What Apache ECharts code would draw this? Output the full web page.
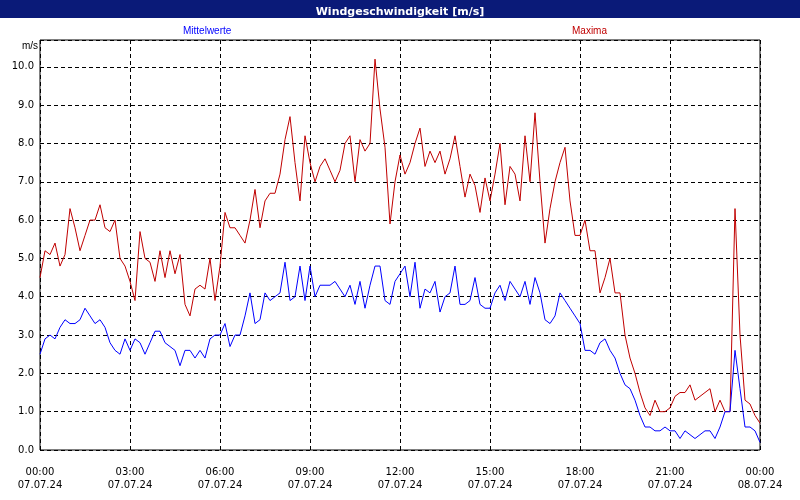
<!DOCTYPE html>
<html>
<head>
<meta charset="utf-8">
<script src="https://cdn.jsdelivr.net/npm/echarts@6/dist/echarts.min.js"></script>
<style>
  html, body { margin: 0; padding: 0; background: #fff; }
  #chart { width: 800px; height: 500px; }
</style>
</head>
<body>
<div id="chart"></div>
<script>
// 10-minute steps from 07.07.24 00:00 to 08.07.24 00:00
var maxima = [
  4.5,5.2,5.1,5.4,4.8,5.1, 6.3,5.8,5.2,5.6,6.0,6.0, 6.4,5.8,5.7,6.0,5.0,4.8,
  4.4,3.9,5.7,5.0,4.9,4.4, 5.2,4.5,5.2,4.6,5.1,3.8, 3.5,4.2,4.3,4.2,5.0,3.9,
  4.8,6.2,5.8,5.8,5.6,5.4, 6.0,6.8,5.8,6.5,6.7,6.7, 7.2,8.1,8.7,7.5,6.5,8.2,
  7.5,7.0,7.4,7.6,7.3,7.0, 7.3,8.0,8.2,7.0,8.1,7.8, 8.0,10.2,8.9,7.9,5.9,7.0,
  7.7,7.2,7.5,8.0,8.4,7.4, 7.8,7.5,7.8,7.2,7.6,8.2, 7.4,6.6,7.2,6.9,6.2,7.1,
  6.5,7.2,8.0,6.4,7.4,7.2, 6.5,8.2,7.0,8.8,7.0,5.4, 6.3,7.0,7.5,7.9,6.5,5.6,
  5.6,6.0,5.2,5.2,4.1,4.5, 5.0,4.1,4.1,3.0,2.4,2.0, 1.5,1.1,0.9,1.3,1.0,1.0,
  1.1,1.4,1.5,1.5,1.7,1.3, 1.4,1.5,1.6,1.0,1.3,1.0, 1.0,6.3,3.0,1.3,1.2,0.9, 0.7
];
var mittel = [
  2.5,2.9,3.0,2.9,3.2,3.4, 3.3,3.3,3.4,3.7,3.5,3.3, 3.4,3.2,2.8,2.6,2.5,2.9,
  2.6,2.9,2.8,2.5,2.8,3.1, 3.1,2.8,2.7,2.6,2.2,2.6, 2.6,2.4,2.6,2.4,2.9,3.0,
  3.0,3.3,2.7,3.0,3.0,3.5, 4.1,3.3,3.4,4.1,3.9,4.0, 4.1,4.9,3.9,4.0,4.8,3.9,
  4.8,4.0,4.3,4.3,4.3,4.4, 4.2,4.0,4.3,3.8,4.4,3.7, 4.3,4.8,4.8,3.9,3.8,4.4,
  4.6,4.8,4.0,4.9,3.7,4.2, 4.1,4.4,3.6,4.0,4.1,4.8, 3.8,3.8,3.9,4.5,3.8,3.7,
  3.7,4.1,4.3,3.9,4.4,4.2, 4.0,4.4,3.8,4.5,4.1,3.4, 3.3,3.5,4.1,3.9,3.7,3.5,
  3.3,2.6,2.6,2.5,2.8,2.9, 2.6,2.4,2.0,1.7,1.6,1.3, 0.9,0.6,0.6,0.5,0.5,0.6,
  0.5,0.5,0.3,0.5,0.4,0.3, 0.4,0.5,0.5,0.3,0.6,1.0, 1.0,2.6,1.6,0.6,0.6,0.5, 0.2
];
var timeLabels = ['00:00','03:00','06:00','09:00','12:00','15:00','18:00','21:00','00:00'];
var dateLabels = ['07.07.24','07.07.24','07.07.24','07.07.24','07.07.24','07.07.24','07.07.24','07.07.24','08.07.24'];

function pairs(arr) {
  return arr.map(function (v, i) { return [i, v]; });
}

var myChart = echarts.init(document.getElementById('chart'));
myChart.setOption({
  animation: false,
  backgroundColor: '#fff',
  textStyle: { fontFamily: 'DejaVu Sans' },
  title: {
    text: 'Windgeschwindigkeit [m/s]',
    left: 'center',
    top: 2,
    textStyle: { color: '#fff', fontSize: 11, fontWeight: 'bold' }
  },
  graphic: [
    { type: 'rect', z: -1, shape: { x: 0, y: 0, width: 800, height: 18 }, style: { fill: '#0a1a78' } },
    { type: 'text', left: 183, top: 26, style: { text: 'Mittelwerte', fill: '#0000ff', fontSize: 10 } },
    { type: 'text', left: 572, top: 26, style: { text: 'Maxima', fill: '#c00000', fontSize: 10 } },
    { type: 'text', left: 22, top: 41, style: { text: 'm/s', fill: '#000', fontSize: 10 } }
  ],
  grid: { left: 40, right: 40, top: 40, bottom: 50, show: true, borderColor: '#000', borderWidth: 1 },
  xAxis: {
    type: 'value', min: 0, max: 144, interval: 18,
    axisLine: { show: false },
    axisTick: { show: false },
    splitLine: { show: true, lineStyle: { color: '#000', type: [4, 3] } },
    axisLabel: {
      color: '#000', fontSize: 10, lineHeight: 13, margin: 16,
      formatter: function (v) { var k = v / 18; return timeLabels[k] + '\n' + dateLabels[k]; }
    }
  },
  yAxis: {
    type: 'value', min: 0, max: 10.7, interval: 1,
    axisLine: { show: false },
    axisTick: { show: false },
    showMaxLabel: false,
    splitLine: { show: true, lineStyle: { color: '#000', type: [4, 3] } },
    axisLabel: { color: '#000', fontSize: 10, margin: 6, formatter: function (v) { return v > 10.5 ? '' : v.toFixed(1); } }
  },
  series: [
    { name: 'Maxima', type: 'line', data: pairs(maxima), showSymbol: false, lineStyle: { color: '#c00000', width: 1 } },
    { name: 'Mittelwerte', type: 'line', data: pairs(mittel), showSymbol: false, lineStyle: { color: '#0000ff', width: 1 } }
  ]
});
</script>
</body>
</html>
